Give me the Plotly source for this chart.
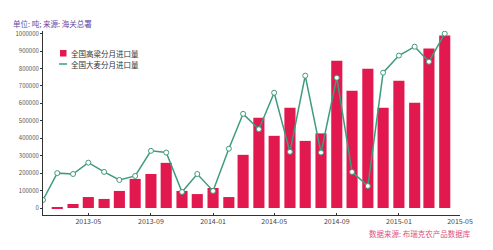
import plotly.graph_objects as go

months = ["2013-02", "2013-03", "2013-04", "2013-05", "2013-06", "2013-07", "2013-08",
          "2013-09", "2013-10", "2013-11", "2013-12", "2014-01", "2014-02", "2014-03",
          "2014-04", "2014-05", "2014-06", "2014-07", "2014-08", "2014-09", "2014-10",
          "2014-11", "2014-12", "2015-01", "2015-02", "2015-03", "2015-04"]

sorghum = [None, 5000, 23000, 63000, 52000, 98000, 167000, 195000, 259000, 98000, 80000,
           115000, 63000, 305000, 517000, 414000, 575000, 385000, 428000, 845000, 672000,
           799000, 575000, 730000, 603000, 914000, 989000]

barley = [46000, 200000, 195000, 260000, 207000, 161000, 184000, 328000, 318000, 92000,
          195000, 98000, 340000, 540000, 452000, 661000, 322000, 759000, 318000, 747000,
          207000, 126000, 776000, 874000, 925000, 839000, 1000000]

y_ticks = [0, 100000, 200000, 300000, 400000, 500000, 600000, 700000, 800000, 900000, 1000000]

series_names = ["全国高粱分月进口量", "全国大麦分月进口量"]

bar_color = "#e2194f"
line_color = "#3f9b7c"

fig = go.Figure()
fig.add_trace(go.Bar(x=months, y=sorghum, name=series_names[0], showlegend=False,
                     marker=dict(color=bar_color, line=dict(width=0))))
fig.add_trace(go.Scatter(x=months, y=barley, name=series_names[1], mode="lines+markers",
                         showlegend=False,
                         line=dict(color=line_color, width=1.5),
                         marker=dict(color="white", size=5,
                                     line=dict(color=line_color, width=1))))

W, H = 493, 250
ml, mr, mt, mb = 43, 33, 31, 35
pw, ph = W - ml - mr, H - mt - mb


def px(x):
    return (x - ml) / pw


def py(y):
    return (H - mb - y) / ph


fig.update_layout(
    width=W, height=H,
    margin=dict(l=ml, r=mr, t=mt, b=mb),
    paper_bgcolor="white", plot_bgcolor="white",
    bargap=0.22,
    font=dict(family="Noto Sans CJK SC, sans-serif", size=7, color="#555555"),
    showlegend=False,
)
fig.update_xaxes(type="date", range=["2013-02-01", "2015-05-01"], dtick="M4",
                 tick0="2013-01-01", tickformat="%Y-%m",
                 showline=True, linecolor="#333333", linewidth=1, showgrid=False,
                 ticks="inside", ticklen=2, tickcolor="#333333", zeroline=False,
                 tickfont=dict(size=7, color="#444444"))
fig.update_yaxes(range=[-40000, 1015000], tickvals=y_ticks, tickformat="d",
                 showline=True, linecolor="#333333", linewidth=1, showgrid=False,
                 ticks="outside", ticklen=2, tickcolor="#333333", zeroline=False,
                 tickfont=dict(size=6, color="#555555"))

# manual legend (paper coordinates)
fig.add_shape(type="rect", xref="paper", yref="paper",
              x0=px(60), x1=px(66.5), y0=py(56.5), y1=py(50),
              fillcolor=bar_color, line=dict(width=0))
fig.add_shape(type="line", xref="paper", yref="paper",
              x0=px(59), x1=px(67), y0=py(64), y1=py(64),
              line=dict(color=line_color, width=1.5))
fig.add_annotation(text=series_names[0], xref="paper", yref="paper",
                   x=px(69), y=py(53), xanchor="left", yanchor="middle", showarrow=False,
                   font=dict(size=7.5, color="#333333"))
fig.add_annotation(text=series_names[1], xref="paper", yref="paper",
                   x=px(69), y=py(64), xanchor="left", yanchor="middle", showarrow=False,
                   font=dict(size=7.5, color="#333333"))

fig.add_annotation(text="单位: 吨; 来源: 海关总署", xref="paper", yref="paper",
                   x=px(11), y=py(24), xanchor="left", yanchor="middle", showarrow=False,
                   font=dict(size=7.5, color="#5a4aa8"))
fig.add_annotation(text="数据来源: 布瑞克农产品数据库", xref="paper", yref="paper",
                   x=px(473), y=py(234), xanchor="right", yanchor="middle", showarrow=False,
                   font=dict(size=7.5, color="#e0507a"))

fig.write_html("out.html")
